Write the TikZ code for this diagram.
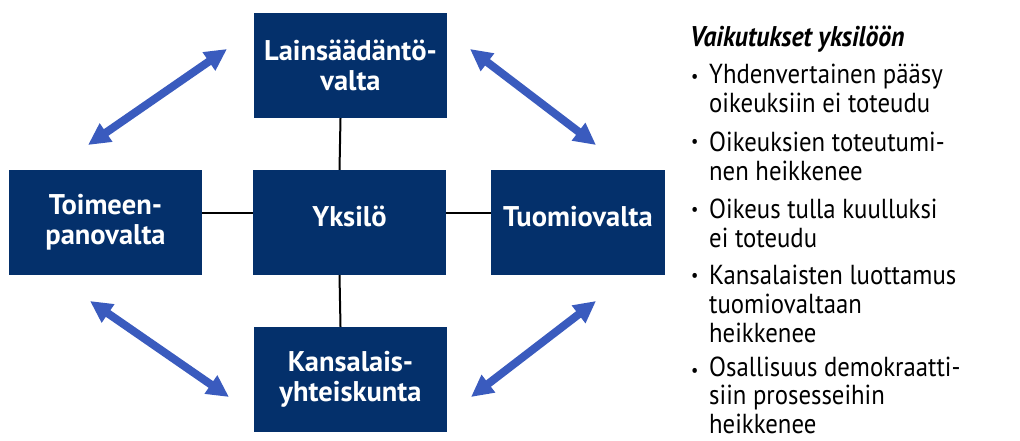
\documentclass[tikz,border=0pt]{standalone}
\usepackage{fontspec}
\setmainfont[FakeStretch=0.9]{PT Sans}
\newfontfamily\boxfont{PT Sans}
\usetikzlibrary{arrows.meta}
\definecolor{navy}{HTML}{04306B}
\definecolor{arrblue}{HTML}{3A5BBE}
\begin{document}
\begin{tikzpicture}[x=1pt,y=-1pt,
 box/.style={fill=navy, text=white, minimum width=193pt, minimum height=105pt, inner sep=0pt, align=center, font=\boxfont\bfseries\fontsize{28.5}{30}\selectfont},
 oneline/.style={text height=20pt, text depth=13pt},
 link/.style={line width=2pt, black},
 dbl/.style={arrblue, line width=8pt, {Triangle[width=21pt,length=22pt]}-{Triangle[width=21pt,length=22pt]}},
 item/.style={anchor=base west, inner sep=0pt, align=left, font=\fontsize{27.5}{29}\selectfont},
 bul/.style={anchor=base west, inner sep=0pt, font=\fontsize{18}{20}\selectfont}
]
\useasboundingbox (0,0) rectangle (1020,441);
\node[box] (top) at (350.5,65.5) {Lainsäädäntö-\\valta};
\node[box, oneline] (ctr) at (349.5,222.5) {Yksilö};
\node[box] (lft) at (105.5,222.5) {Toimeen-\\panovalta};
\node[box, oneline, minimum width=174pt] (rgt) at (578,222.5) {Tuomiovalta};
\node[box] (bot) at (350.5,379.5) {Kansalais-\\yhteiskunta};
\draw[link] ([xshift=-10pt]top.south) -- ([xshift=-10pt]ctr.north);
\draw[link] ([xshift=-10pt]ctr.south) -- ([xshift=-10pt]bot.north);
\draw[link] ([yshift=9.5pt]lft.east) -- ([yshift=9.5pt]ctr.west);
\draw[link] ([yshift=9.5pt]ctr.east) -- ([yshift=9.5pt]rgt.west);
\coordinate (a1) at (88,145);
\coordinate (a2) at (227,49);
\coordinate (b1) at (470,49);
\coordinate (b2) at (596,145);
\coordinate (c1) at (90,301);
\coordinate (c2) at (229,397);
\coordinate (d1) at (596,301);
\coordinate (d2) at (471,397);
\draw[dbl] (a1) -- (a2);
\draw[dbl] (b1) -- (b2);
\draw[dbl] (c1) -- (c2);
\draw[dbl] (d1) -- (d2);
\node[item, font=\bfseries\itshape\fontsize{28.5}{29}\selectfont] (title) at (690,47) {Vaikutukset yksilöön};
\node[bul] (p1) at (691,83) {•};
\node[item] (i1) at (709,113) {Yhdenvertainen pääsy\\oikeuksiin ei toteudu};
\node[bul] (p2) at (691,148) {•};
\node[item] (i2) at (709,180) {Oikeuksien toteutumi-\\nen heikkenee};
\node[bul] (p3) at (691,215) {•};
\node[item] (i3) at (709,247) {Oikeus tulla kuulluksi\\ei toteudu};
\node[bul] (p4) at (691,281) {•};
\node[item] (i4) at (709,342) {Kansalaisten luottamus\\tuomiovaltaan\\heikkenee};
\node[bul] (p5) at (691,376) {•};
\node[item, font=\fontsize{27.5}{28.5}\selectfont] (i5) at (709,433) {Osallisuus demokraatti-\\siin prosesseihin\\heikkenee};
\end{tikzpicture}
\end{document}
